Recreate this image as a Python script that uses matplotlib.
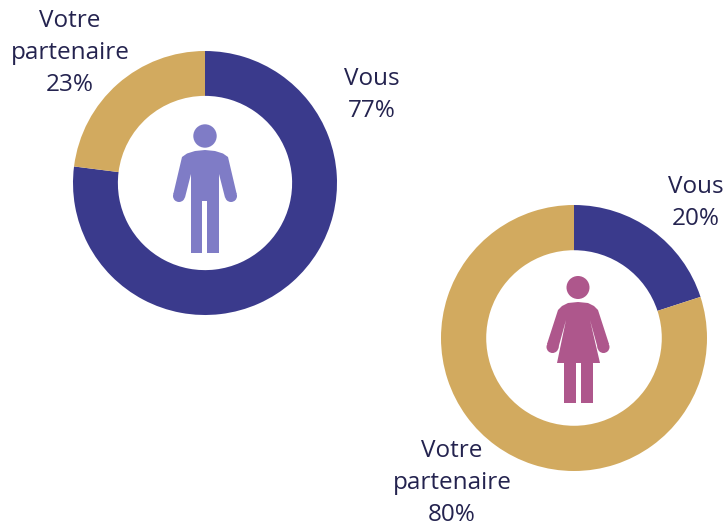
import matplotlib
matplotlib.use("Agg")
import matplotlib.pyplot as plt
from matplotlib.patches import Circle, Polygon

W, H = 727, 524
NAVY = "#3A3A8C"
GOLD = "#D2AA5F"
TEXT = "#24234F"
MAN = "#7F7CC6"
WOMAN = "#AE578C"

man_labels = ["Vous", "Votre\npartenaire"]
man_values = [77, 23]
woman_labels = ["Vous", "Votre\npartenaire"]
woman_values = [20, 80]

fig = plt.figure(figsize=(W/100, H/100), dpi=100)
bg = fig.add_axes([0, 0, 1, 1])
bg.set_xlim(0, W); bg.set_ylim(H, 0); bg.axis("off")

def donut(cx, cy, r, values):
    ax = fig.add_axes([(cx-r)/W, 1-(cy+r)/H, 2*r/W, 2*r/H])
    ax.pie(values, colors=[NAVY, GOLD], startangle=90, counterclock=False, radius=1,
           wedgeprops=dict(width=0.34, linewidth=0))
    ax.set_xlim(-1, 1); ax.set_ylim(-1, 1)
    ax.set_aspect("equal")

donut(205, 183, 132, man_values)
donut(574, 338, 133, woman_values)

# man pictogram
man_outline = [(191, 253), (202, 253), (202, 201), (207, 201), (207, 253), (219, 253), (219, 174),
               (225, 197.5), (236.7, 194), (228, 157), (223, 153.5), (215, 151), (205, 150), (195, 151),
               (187, 153.5), (182, 157), (173.3, 194), (185, 197.5), (191, 174)]
bg.add_patch(Polygon(man_outline, color=MAN, lw=0))
bg.add_patch(Circle((205, 136), 11.7, color=MAN, lw=0))
bg.add_patch(Circle((179, 196), 6, color=MAN, lw=0))
bg.add_patch(Circle((231, 196), 6, color=MAN, lw=0))

# woman pictogram
woman_outline = [(564, 403), (576, 403), (576, 363), (581, 363), (581, 403), (593, 403), (593, 363),
                 (600, 363), (590, 320), (598, 349), (609, 344), (598, 310), (594, 306), (588, 303),
                 (578, 302), (568, 303), (562, 306), (558, 310), (547, 344), (558, 349), (566, 320),
                 (557, 363), (564, 363)]
bg.add_patch(Polygon(woman_outline, color=WOMAN, lw=0))
bg.add_patch(Circle((578, 287.5), 11.5, color=WOMAN, lw=0))
bg.add_patch(Circle((552.5, 347), 6, color=WOMAN, lw=0))
bg.add_patch(Circle((603.5, 347), 6, color=WOMAN, lw=0))

fs = 17.5
font = ["Open Sans", "DejaVu Sans"]
STEP = 32

def lab(x, y, name, value):
    lines = name.split("\n") + [f"{value}%"]
    for i, line in enumerate(lines):
        bg.text(x, y + i*STEP, line, ha="center", va="baseline", fontsize=fs, color=TEXT, family=font)

lab(70, 27, man_labels[1], man_values[1])
lab(372, 85, man_labels[0], man_values[0])
lab(696, 193, woman_labels[0], woman_values[0])
lab(452, 457, woman_labels[1], woman_values[1])

fig.savefig("out.png", dpi=100)
